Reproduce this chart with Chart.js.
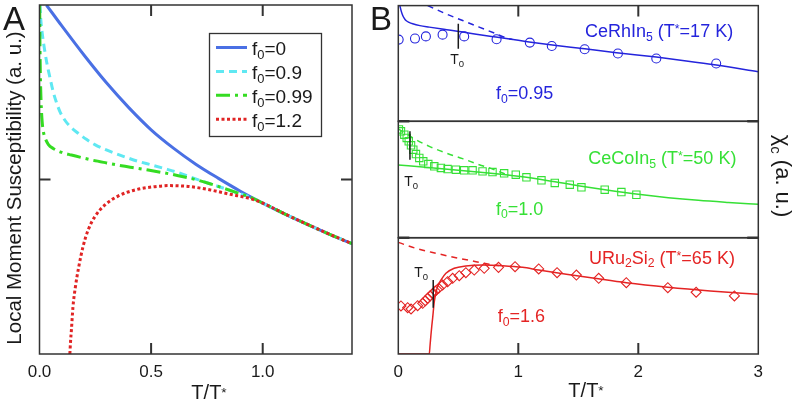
<!DOCTYPE html>
<html><head><meta charset="utf-8">
<script src="https://cdn.jsdelivr.net/npm/chart.js@4.4.0/dist/chart.umd.min.js"></script>
<style>
html,body{margin:0;padding:0;background:#fff;width:799px;height:403px;overflow:hidden}
canvas{position:absolute;left:0;top:0;pointer-events:none}
</style></head>
<body>
<canvas id="cA" width="799" height="403"></canvas>
<canvas id="cB1" width="799" height="403"></canvas>
<canvas id="cB2" width="799" height="403"></canvas>
<canvas id="cB3" width="799" height="403"></canvas>
<script>
// ================= DATA =================
// Panel A: local moment susceptibility vs T/T*
const A_X_TICKS = [0, 0.5, 1.0];
const A_X_TICK_LABELS = ['0.0', '0.5', '1.0'];
const A_Y_TICKS = [1];
const A_F0_VALUES = ['0', '0.9', '0.99', '1.2'];
const A_F0_0 = [[0.031,2.0],[0.1,1.88],[0.2,1.712],[0.3,1.554],[0.4,1.412],[0.5,1.285],[0.6,1.18],[0.7,1.088],[0.8,1.008],[0.9,0.933],[1.0,0.865],[1.1,0.802],[1.2,0.743],[1.3,0.686],[1.4,0.632]];
const A_F0_09 = [[0.002,2.0],[0.005,1.93],[0.008,1.885],[0.015,1.81],[0.023,1.742],[0.034,1.66],[0.046,1.589],[0.06,1.51],[0.075,1.445],[0.093,1.385],[0.113,1.341],[0.14,1.3],[0.173,1.265],[0.21,1.23],[0.248,1.2],[0.29,1.174],[0.338,1.15],[0.39,1.126],[0.442,1.104],[0.5,1.084],[0.562,1.062],[0.62,1.04],[0.69,1.008],[0.76,0.977],[0.83,0.948],[0.89,0.922],[0.945,0.898],[1.0,0.865],[1.1,0.802],[1.2,0.743],[1.3,0.686],[1.4,0.632]];
const A_F0_099 = [[0.001,2.0],[0.002,1.8],[0.004,1.6],[0.007,1.45],[0.012,1.33],[0.018,1.27],[0.025,1.238],[0.04,1.2],[0.061,1.178],[0.1,1.155],[0.143,1.14],[0.19,1.125],[0.233,1.112],[0.3,1.095],[0.367,1.079],[0.43,1.066],[0.487,1.054],[0.55,1.04],[0.622,1.022],[0.697,1.0],[0.76,0.977],[0.83,0.948],[0.89,0.922],[0.945,0.898],[1.0,0.865],[1.1,0.802],[1.2,0.743],[1.3,0.686],[1.4,0.632]];
const A_F0_12 = [[0.136,0.0],[0.139,0.07],[0.143,0.138],[0.15,0.271],[0.161,0.386],[0.176,0.5],[0.195,0.615],[0.218,0.711],[0.248,0.787],[0.293,0.854],[0.352,0.905],[0.427,0.94],[0.517,0.959],[0.58,0.965],[0.62,0.964],[0.676,0.959],[0.766,0.94],[0.855,0.915],[0.945,0.89],[1.0,0.865],[1.1,0.802],[1.2,0.743],[1.3,0.686],[1.4,0.632]];

// Panel B: chi_c vs T/T*
const B_X_TICKS = [0, 1, 2, 3];
const B_X_TICK_LABELS = ['0', '1', '2', '3'];
// CeRhIn5 (f0 = 0.95)
const RH_FIT = [[0.013,10],[0.025,9.5],[0.037,9.14],[0.05,8.9],[0.064,8.71],[0.09,8.55],[0.12,8.43],[0.18,8.27],[0.258,8.14],[0.38,7.95],[0.507,7.77],[0.65,7.53],[0.813,7.28],[1.0,7.0],[1.09,6.86],[1.3,6.57],[1.553,6.27],[1.8,5.95],[2.15,5.55],[2.4,5.22],[2.65,4.86],[3.0,4.28]];
const RH_NOCOH = [[0.245,10],[0.397,9.29],[0.536,8.71],[0.674,8.14],[0.813,7.57],[0.896,7.22],[0.95,7.07]];
const RH_DATA = [[0.003,7.06],[0.139,7.15],[0.230,7.34],[0.369,7.49],[0.549,7.34],[0.819,7.09],[1.096,6.80],[1.279,6.51],[1.553,6.23],[1.830,5.86],[2.150,5.43],[2.649,5.00]];
const RH_T0 = [[0.5,8.43],[0.5,6.28]];
// CeCoIn5 (f0 = 1.0)
const CO_FIT = [[0,6.25],[0.25,6.03],[0.5,5.8],[0.75,5.55],[1.0,5.27],[1.25,4.9],[1.5,4.47],[1.75,4.08],[2.0,3.73],[2.25,3.44],[2.5,3.21],[2.75,3.03],[3.0,2.87]];
const CO_NOCOH = [[0,9.35],[0.148,8.42],[0.258,7.85],[0.397,7.28],[0.536,6.79],[0.674,6.27],[0.785,5.9],[0.92,5.35]];
const CO_DATA = [[0.005,9.3],[0.022,9.14],[0.05,8.85],[0.07,8.57],[0.087,8.28],[0.106,7.94],[0.125,7.56],[0.147,7.19],[0.175,6.85],[0.208,6.56],[0.25,6.33],[0.3,6.13],[0.355,5.99],[0.411,5.9],[0.48,5.84],[0.549,5.79],[0.619,5.79],[0.702,5.7],[0.785,5.64],[0.882,5.53],[0.979,5.41],[1.068,5.19],[1.193,4.93],[1.304,4.7],[1.429,4.55],[1.526,4.33],[1.72,4.12],[1.859,3.92],[1.984,3.69]];
const CO_T0 = [[0.097,9.14],[0.097,6.70]];
// URu2Si2 (f0 = 1.6)
const UR_FIT = [[0,0],[0.258,0],[0.265,0.8],[0.272,1.63],[0.279,2.4],[0.286,3.07],[0.3,4.5],[0.319,5.5],[0.336,6.0],[0.355,6.36],[0.397,6.94],[0.466,7.37],[0.563,7.57],[0.702,7.65],[0.869,7.59],[1.035,7.45],[1.17,7.22],[1.4,6.86],[1.636,6.51],[1.9,6.13],[2.246,5.74],[2.6,5.42],[3.0,5.13]];
const UR_NOCOH = [[0,9.6],[0.148,9.08],[0.314,8.66],[0.48,8.28],[0.647,7.94],[0.757,7.71],[0.84,7.6]];
const UR_DATA = [[0.022,4.13],[0.078,3.98],[0.106,3.87],[0.161,4.15],[0.203,4.36],[0.225,4.58],[0.245,4.79],[0.264,4.99],[0.286,5.18],[0.308,5.42],[0.336,5.65],[0.369,5.93],[0.411,6.22],[0.453,6.51],[0.508,6.73],[0.563,6.99],[0.633,7.22],[0.716,7.37],[0.835,7.45],[0.973,7.51],[1.17,7.31],[1.323,6.99],[1.484,6.79],[1.67,6.51],[1.9,6.13],[2.246,5.70],[2.482,5.31],[2.801,4.99]];
const UR_T0 = [[0.291,6.36],[0.291,3.98]];

// ================= STYLE / HELPERS =================
const FONT = "'Liberation Sans', Arial, Helvetica, sans-serif";
const INK = '#1a1a1a';
const A_COLORS = ['#4a70e4', '#5fe8f2', '#35dc22', '#e02424'];
const B_BLUE = '#2424dc', B_GREEN = '#36e036', B_RED = '#e42424';

function drawRich(ctx, segs, x, y, size, color, align) {
  let total = 0;
  const parts = segs.map(s => {
    const fs = (s.sub || s.sup) ? size * 0.68 : size;
    ctx.font = fs + 'px ' + FONT;
    const w = ctx.measureText(s.t).width;
    total += w;
    return { s, fs, w };
  });
  let cx = align === 'center' ? x - total / 2 : (align === 'right' ? x - total : x);
  ctx.fillStyle = color; ctx.textBaseline = 'alphabetic'; ctx.textAlign = 'left';
  for (const p of parts) {
    ctx.font = p.fs + 'px ' + FONT;
    let dy = 0;
    if (p.s.sub) dy = size * 0.22;
    if (p.s.sup) dy = (p.s.dy !== undefined ? p.s.dy : -0.4) * size;
    ctx.fillText(p.s.t, cx, y + dy);
    cx += p.w;
  }
}
const f0segs = v => [{ t: 'f' }, { t: '0', sub: true }, { t: '=' + v }];
const tstar = [{ t: 'T/T' }, { t: '*', sup: true, dy: -0.12 }];

const framePlugin = {
  id: 'frame',
  afterDatasetsDraw(chart, args, o) {
    const { ctx, chartArea: a } = chart; const xs = chart.scales.x, ys = chart.scales.y;
    ctx.save();
    ctx.strokeStyle = '#333'; ctx.lineWidth = 1.5; ctx.setLineDash([]);
    ctx.strokeRect(a.left, a.top, a.right - a.left, a.bottom - a.top);
    const L = 11;
    ctx.lineWidth = 2;
    ctx.beginPath();
    (o.top || []).forEach(v => { const p = xs.getPixelForValue(v); ctx.moveTo(p, a.top); ctx.lineTo(p, a.top + L); });
    (o.bottom || []).forEach(v => { const p = xs.getPixelForValue(v); ctx.moveTo(p, a.bottom); ctx.lineTo(p, a.bottom - L); });
    (o.left || []).forEach(v => { const p = ys.getPixelForValue(v); ctx.moveTo(a.left, p); ctx.lineTo(a.left + L, p); });
    (o.right || []).forEach(v => { const p = ys.getPixelForValue(v); ctx.moveTo(a.right, p); ctx.lineTo(a.right - L, p); });
    ctx.stroke();
    ctx.restore();
  }
};
const textPlugin = {
  id: 'texts',
  afterDraw(chart, args, o) {
    const ctx = chart.ctx; const xs = chart.scales.x, ys = chart.scales.y;
    for (const it of (o.items || [])) {
      let px = it.x, py = it.y;
      if (it.data) { px = xs.getPixelForValue(it.x); py = ys.getPixelForValue(it.y); }
      ctx.save();
      ctx.translate(px, py);
      if (it.rot) ctx.rotate(it.rot);
      drawRich(ctx, it.segs, 0, 0, it.size, it.color, it.align || 'left');
      ctx.restore();
    }
  }
};
const legendBoxPlugin = {
  id: 'legendBox',
  afterDraw(chart, args, o) {
    if (!o.show) return;
    const ctx = chart.ctx;
    ctx.save();
    ctx.fillStyle = '#fff'; ctx.fillRect(o.x, o.y, o.w, o.h);
    ctx.strokeStyle = '#333'; ctx.lineWidth = 1.3; ctx.strokeRect(o.x, o.y, o.w, o.h);
    chart.data.datasets.forEach((ds, i) => {
      const yy = o.row0 + i * o.rowDy;
      ctx.strokeStyle = ds.borderColor; ctx.lineWidth = ds.borderWidth; ctx.setLineDash(ds.borderDash || []);
      ctx.beginPath(); ctx.moveTo(o.lx0, yy); ctx.lineTo(o.lx1, yy); ctx.stroke();
      ctx.setLineDash([]);
      drawRich(ctx, f0segs(A_F0_VALUES[i]), o.tx, yy + o.size * 0.4, o.size, INK, 'left');
    });
    ctx.restore();
  }
};
Chart.register(framePlugin, textPlugin, legendBoxPlugin);

const pts = arr => arr.map(p => ({ x: p[0], y: p[1] }));
function lineDS(label, arr, color, width, dash, order, smooth) {
  return { label, data: pts(arr), showLine: true, borderColor: color, backgroundColor: color,
    borderWidth: width, borderDash: dash, pointRadius: 0, cubicInterpolationMode: smooth ? 'monotone' : 'default',
    tension: 0, clip: 0, order, fill: false };
}
function markDS(label, arr, color, style, r) {
  return { label, data: pts(arr), showLine: false, pointStyle: style, pointRadius: r,
    borderColor: color, backgroundColor: 'rgba(0,0,0,0)', borderWidth: 1.1, clip: 0, order: 5 };
}
const tickFont = { family: FONT, size: 17 };
function xAxis(min, max, ticks, labels, show) {
  return {
    type: 'linear', min, max, display: show,
    afterBuildTicks: s => { s.ticks = ticks.map(v => ({ value: v })); },
    afterFit: s => { if (show) s.height = 49; },
    grid: { display: false, drawTicks: false }, border: { display: false },
    ticks: { font: tickFont, color: INK, padding: 8, maxRotation: 0, autoSkip: false,
      callback: (v, i) => labels[i] }
  };
}
const common = { responsive: false, animation: false, devicePixelRatio: 1, events: [] };

// ================= PANEL A =================
new Chart(document.getElementById('cA'), {
  type: 'scatter',
  data: { datasets: [
    lineDS('f0=' + A_F0_VALUES[0], A_F0_0, A_COLORS[0], 3, [], 4, true),
    lineDS('f0=' + A_F0_VALUES[1], A_F0_09, A_COLORS[1], 3, [8, 5], 3, true),
    lineDS('f0=' + A_F0_VALUES[2], A_F0_099, A_COLORS[2], 3, [14, 5, 3, 5], 2, true),
    lineDS('f0=' + A_F0_VALUES[3], A_F0_12, A_COLORS[3], 3, [3, 2.5], 1, true)
  ] },
  options: Object.assign({}, common, {
    layout: { padding: { left: 39.5, right: 447, top: 5, bottom: 0 } },
    plugins: {
      legend: { display: false }, tooltip: { enabled: false },
      frame: { top: [0.5, 1.0], bottom: [0.5, 1.0], left: A_Y_TICKS, right: A_Y_TICKS },
      legendBox: { show: true, x: 209.5, y: 33.5, w: 112, h: 103, row0: 47.5, rowDy: 23.9, lx0: 216, lx1: 247, tx: 252, size: 19 },
      texts: { items: [
        { x: 3, y: 30, segs: [{ t: 'A' }], size: 33, color: INK },
        { x: 21, y: 188, rot: -Math.PI / 2, align: 'center', segs: [{ t: 'Local Moment Susceptibility (a. u.)' }], size: 20.5, color: INK },
        { x: 209, y: 399, align: 'center', segs: tstar, size: 20, color: INK }
      ] }
    },
    scales: {
      x: xAxis(0, 1.4, A_X_TICKS, A_X_TICK_LABELS, true),
      y: { display: false, min: 0, max: 2 }
    }
  })
});

// ================= PANEL B =================
const B_LEFT = 398.3, B_RIGHT = 758.3;
function bChart(id, top, bottom, showX, datasets, frame, items) {
  return new Chart(document.getElementById(id), {
    type: 'scatter',
    data: { datasets },
    options: Object.assign({}, common, {
      layout: { padding: { left: B_LEFT, right: 799 - B_RIGHT, top: top, bottom: showX ? 0 : 403 - bottom } },
      plugins: { legend: { display: false }, tooltip: { enabled: false }, frame, texts: { items } },
      scales: {
        x: xAxis(0, 3, B_X_TICKS, B_X_TICK_LABELS, showX),
        y: { display: false, min: 0, max: 10 }
      }
    })
  });
}
const tzero = [{ t: 'T' }, { t: '0', sub: true }];
const starDy = -0.2;

bChart('cB1', 5, 121.3, false, [
  lineDS('CeRhIn5 fit', RH_FIT, B_BLUE, 1.5, [], 1, true),
  lineDS('CeRhIn5 no coherence', RH_NOCOH, B_BLUE, 1.5, [6, 5], 2, true),
  markDS('CeRhIn5 data', RH_DATA, B_BLUE, 'circle', 4.5),
  lineDS('T0', RH_T0, INK, 1.5, [], 0, false)
], { top: [1, 2], left: [0], right: [0] }, [
  { x: 370, y: 30, segs: [{ t: 'B' }], size: 33, color: INK },
  { data: true, x: 1.556, y: 7.29, segs: [{ t: 'CeRhIn' }, { t: '5', sub: true }, { t: ' (T' }, { t: '*', sup: true, dy: starDy }, { t: '=17 K)' }], size: 18, color: B_BLUE },
  { data: true, x: 0.814, y: 1.92, segs: f0segs('0.95'), size: 18, color: B_BLUE },
  { data: true, x: 0.433, y: 4.99, segs: tzero, size: 14, color: INK }
]);

bChart('cB2', 121.3, 237.7, false, [
  lineDS('CeCoIn5 fit', CO_FIT, B_GREEN, 1.5, [], 1, true),
  lineDS('CeCoIn5 no coherence', CO_NOCOH, B_GREEN, 1.5, [6, 5], 2, true),
  markDS('CeCoIn5 data', CO_DATA, B_GREEN, 'rect', 5.2),
  lineDS('T0', CO_T0, INK, 1.5, [], 0, false)
], { left: [0, 10], right: [0, 10] }, [
  { data: true, x: 1.583, y: 6.36, segs: [{ t: 'CeCoIn' }, { t: '5', sub: true }, { t: ' (T' }, { t: '*', sup: true, dy: starDy }, { t: '=50 K)' }], size: 18, color: B_GREEN },
  { data: true, x: 0.814, y: 1.99, segs: f0segs('1.0'), size: 18, color: B_GREEN },
  { data: true, x: 0.05, y: 4.42, segs: tzero, size: 14, color: INK },
  { x: 776, y: 176, rot: Math.PI / 2, align: 'center', segs: [{ t: 'χ' }, { t: 'c', sub: true }, { t: ' (a. u.)' }], size: 22, color: INK }
]);

bChart('cB3', 237.7, 354, true, [
  lineDS('URu2Si2 fit', UR_FIT, B_RED, 1.5, [], 1, true),
  lineDS('URu2Si2 no coherence', UR_NOCOH, B_RED, 1.5, [6, 5], 2, true),
  markDS('URu2Si2 data', UR_DATA, B_RED, 'rectRot', 5),
  lineDS('T0', UR_T0, INK, 1.5, [], 0, false)
], { bottom: [1, 2], left: [10], right: [10] }, [
  { data: true, x: 1.589, y: 7.78, segs: [{ t: 'URu' }, { t: '2', sub: true }, { t: 'Si' }, { t: '2', sub: true }, { t: ' (T' }, { t: '*', sup: true, dy: starDy }, { t: '=65 K)' }], size: 18, color: B_RED },
  { data: true, x: 0.828, y: 2.79, segs: f0segs('1.6'), size: 18, color: B_RED },
  { data: true, x: 0.133, y: 6.65, segs: tzero, size: 14, color: INK },
  { x: 586, y: 397, align: 'center', segs: tstar, size: 20, color: INK }
]);
</script>
</body></html>
